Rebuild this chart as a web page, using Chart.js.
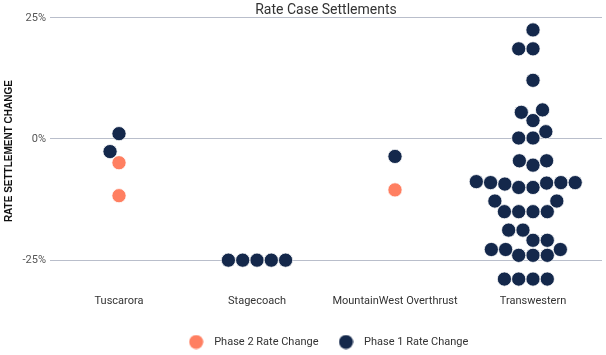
<!DOCTYPE html>
<html>
<head>
<meta charset="utf-8">
<script src="https://cdn.jsdelivr.net/npm/chart.js@4.4.1/dist/chart.umd.min.js"></script>
<style>
html,body{margin:0;padding:0;background:#ffffff;}
canvas{display:block;}
</style>
</head>
<body>
<canvas id="chart" width="606" height="355"></canvas>
<script>
// ---------------- data ----------------
const categories = ['Tuscarora', 'Stagecoach', 'MountainWest Overthrust', 'Transwestern'];
const yTickValues = [-25, 0, 25];
const seriesNames = ['Phase 2 Rate Change', 'Phase 1 Rate Change'];

// values (% change) per category, in record order
const phase2Values = [
  [-4.9, -11.7],
  [],
  [-10.5],
  []
];
const phase1Values = [
  [1.1, -2.6],
  [-25, -25, -25, -25, -25],
  [-3.6],
  [22.5, 18.6, 18.6, 12.1, 3.8, 5.5, 6.0, 0.2, 0.2, 1.5,
   -5.4, -4.5, -4.5,
   -10.0, -10.0, -9.1, -9.3, -9.0, -9.0, -9.0, -8.8,
   -15, -15, -15, -15, -12.8, -12.8,
   -28.9, -28.9, -28.9, -28.9,
   -24.0, -24.0, -24.0, -22.8, -22.8, -22.8,
   -20.9, -18.8, -20.9, -18.8]
];

// ---------------- styles ----------------
const NAVY = '#14284B';
const ORANGE = '#FF7F61';
const FONT = 'Roboto, "Open Sans", sans-serif';
const DOT_R = 7.1;
const SWARM_D = 14.3;

function buildData(valuesByCat) {
  const out = [];
  valuesByCat.forEach((vals, ci) => vals.forEach(v => out.push({x: ci, y: v})));
  return out;
}

function legendDot(color) {
  const c = document.createElement('canvas');
  c.width = 15; c.height = 15;
  const g = c.getContext('2d');
  g.fillStyle = color;
  g.beginPath(); g.arc(7.5, 7.5, 7, 0, Math.PI * 2); g.fill();
  return c;
}
const legendDots = [legendDot(ORANGE), legendDot(NAVY)];

const chart = new Chart(document.getElementById('chart'), {
  type: 'scatter',
  data: {
    datasets: [
      {label: seriesNames[0], data: buildData(phase2Values), backgroundColor: ORANGE,
       borderColor: '#ffffff', borderWidth: 0.8, pointRadius: DOT_R, pointHoverRadius: DOT_R, clip: false},
      {label: seriesNames[1], data: buildData(phase1Values), backgroundColor: NAVY,
       borderColor: '#ffffff', borderWidth: 0.8, pointRadius: DOT_R, pointHoverRadius: DOT_R, clip: false}
    ]
  },
  options: {
    responsive: false,
    animation: false,
    devicePixelRatio: 1,
    layout: {autoPadding: false, padding: {left: 0, right: 4, top: 0, bottom: -2.5}},
    plugins: {
      title: {
        display: true, text: 'Rate Case Settlements', fullSize: false,
        color: '#333333', font: {family: FONT, size: 14, weight: 'normal', lineHeight: 1},
        padding: {top: 3, bottom: 0.8}
      },
      legend: {
        position: 'bottom', fullSize: false,
        labels: {
          usePointStyle: true, pointStyleWidth: 25, boxHeight: 10,
          padding: 15, color: '#333333', font: {family: FONT, size: 11},
          generateLabels(ch) {
            const items = Chart.defaults.plugins.legend.labels.generateLabels(ch);
            items.forEach((it, i) => { it.pointStyle = legendDots[i]; });
            return items;
          }
        }
      },
      tooltip: {enabled: false}
    },
    scales: {
      x: {
        type: 'linear', min: -0.5, max: 3.5,
        afterBuildTicks(scale) { scale.ticks = categories.map((c, i) => ({value: i})); },
        afterFit(scale) { scale.height = 37.1; scale.paddingLeft = 0; scale.paddingRight = 0; },
        ticks: {
          autoSkip: false, maxRotation: 0, padding: 10, color: '#333333',
          font: {family: FONT, size: 11},
          callback: (v) => categories[v]
        },
        grid: {display: false, drawTicks: false},
        border: {display: false}
      },
      y: {
        min: -30, max: 25,
        afterBuildTicks(scale) { scale.ticks = yTickValues.map(v => ({value: v})); },
        afterFit(scale) { scale.width = 50; },
        ticks: {
          padding: 4, color: '#555555', font: {family: FONT, size: 11},
          callback: (v) => v + '%'
        },
        grid: {color: '#B9BECB', lineWidth: 1, drawTicks: false},
        border: {display: false},
        title: {
          display: true, text: 'RATE SETTLEMENT CHANGE', color: '#111111',
          font: {family: '"Liberation Sans", Arial, sans-serif', size: 10, weight: 'bold'},
          padding: {top: 3, bottom: 0}
        }
      }
    }
  }
});

// ---------------- beeswarm layout (computed from values via the chart's scales) ----------------
function layoutSwarm(ch) {
  const xs = ch.scales.x, ys = ch.scales.y;
  const unit = xs.getPixelForValue(1) - xs.getPixelForValue(0);
  const groups = [phase2Values, phase1Values];
  const startIdx = groups.map(g => { const s = []; let n = 0; g.forEach(v => { s.push(n); n += v.length; }); return s; });
  categories.forEach((c, ci) => {
    const placed = [];
    groups.forEach((g, dsi) => {
      g[ci].forEach((v, k) => {
        const py = ys.getPixelForValue(v);
        const cands = [0];
        placed.forEach(p => {
          const dy = py - p.py;
          if (Math.abs(dy) < SWARM_D) {
            const dx = Math.sqrt(SWARM_D * SWARM_D - dy * dy);
            cands.push(p.px + dx, p.px - dx);
          }
        });
        let best = 0, bestScore = Infinity;
        cands.forEach(x => {
          const ok = placed.every(p => (x - p.px) ** 2 + (py - p.py) ** 2 >= SWARM_D * SWARM_D - 0.01);
          if (!ok) return;
          const score = Math.abs(x) + (x > 0 ? 1 : 0);
          if (score < bestScore - 1e-9) { bestScore = score; best = x; }
        });
        placed.push({px: best, py});
        ch.data.datasets[dsi].data[startIdx[dsi][ci] + k].x = ci + best / unit;
      });
    });
  });
  ch.update('none');
}
layoutSwarm(chart);
</script>
</body>
</html>
